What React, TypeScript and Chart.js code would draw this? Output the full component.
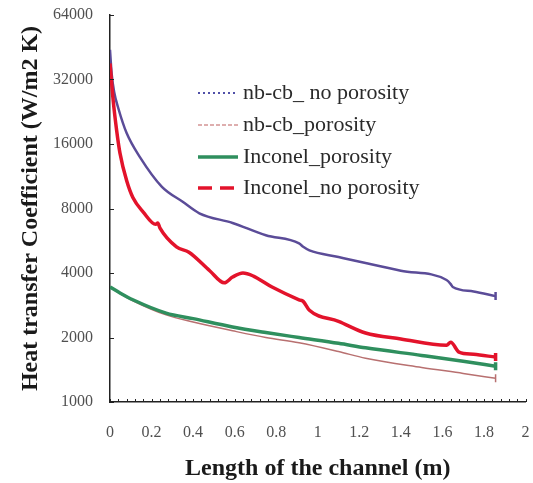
import React, { useEffect, useRef } from 'react';
import { Chart, registerables } from 'chart.js';

Chart.register(...registerables);

// ---- data ----
const X_TICK_STEP = 0.2;
const X_MINOR_STEP = 0.04;
const Y_TICKS = [1000, 2000, 4000, 8000, 16000, 32000, 64000];

const LABELS = ['nb-cb_ no porosity', 'nb-cb_porosity', 'Inconel_porosity', 'Inconel_no porosity'];

const nbNoPorX = [0, 0.008, 0.02, 0.04, 0.08, 0.144, 0.25, 0.35, 0.43, 0.59, 0.75, 0.91, 0.93, 0.96, 1.1, 1.23, 1.4, 1.62, 1.64, 1.65, 1.75, 1.856];
const nbNoPorY = [44000, 34000, 28000, 23500, 18000, 13900, 10100, 8600, 7600, 6850, 6000, 5500, 5300, 5100, 4750, 4450, 4100, 3710, 3550, 3440, 3280, 3120];

const nbPorX = [0, 0.05, 0.11, 0.27, 0.4, 0.59, 0.75, 0.91, 1.1, 1.23, 1.5, 1.7, 1.856];
const nbPorY = [3440, 3200, 2970, 2550, 2360, 2150, 2000, 1890, 1720, 1600, 1450, 1360, 1290];

const incPorX = [0, 0.05, 0.11, 0.27, 0.4, 0.59, 0.75, 0.91, 1.1, 1.23, 1.5, 1.7, 1.856];
const incPorY = [3440, 3220, 3000, 2600, 2450, 2240, 2110, 2000, 1880, 1790, 1650, 1550, 1470];

const incNoPorX = [0, 0.015, 0.032, 0.048, 0.08, 0.11, 0.16, 0.22, 0.23, 0.24, 0.32, 0.38, 0.48, 0.55, 0.59, 0.64, 0.69, 0.78, 0.91, 0.93, 0.96, 1.1, 1.23, 1.4, 1.62, 1.64, 1.68, 1.75, 1.856];
const incNoPorY = [38000, 25700, 18500, 14500, 10800, 9000, 7700, 6750, 6850, 6500, 5300, 5000, 4100, 3600, 3830, 4000, 3870, 3440, 3000, 2950, 2680, 2380, 2100, 1970, 1840, 1900, 1710, 1670, 1620];

const COLORS = ['#5b4c98', '#b87070', '#2f8f5e', '#e3132b'];
const WIDTHS = [2.5, 1.5, 3.5, 3.5];
const LEGEND_DASH = [[2, 3], [4, 2], [], [14, 8]];
const LEGEND_COLORS = ['#5050a8', '#d49494', '#2f8f5e', '#e3132b'];

const toPts = (xs: number[], ys: number[]) => xs.map((x, i) => ({ x, y: ys[i] }));

const serif = "'Liberation Serif', 'Times New Roman', serif";

export default function App() {
  const ref = useRef<HTMLCanvasElement | null>(null);

  useEffect(() => {
    if (!ref.current) return;

    const extras = {
      id: 'extras',
      afterDatasetsDraw(chart: any) {
        const { ctx, scales } = chart;
        const xs = scales.x;
        const ys = scales.y;
        const area = chart.chartArea;
        ctx.save();
        ctx.strokeStyle = '#222';
        ctx.lineWidth = 1;
        for (let i = 0; i <= Math.round(2 / X_MINOR_STEP); i++) {
          const px = Math.round(xs.getPixelForValue(i * X_MINOR_STEP)) + 0.5;
          ctx.beginPath();
          ctx.moveTo(px, area.bottom);
          ctx.lineTo(px, area.bottom - 3);
          ctx.stroke();
        }
        Y_TICKS.forEach((v) => {
          const py = Math.round(ys.getPixelForValue(v)) + 0.5;
          ctx.beginPath();
          ctx.moveTo(area.left, py);
          ctx.lineTo(area.left + 4, py);
          ctx.stroke();
        });
        const lx0 = 198, lx1 = 238, tx = 243;
        const rows = [93, 125, 157, 188];
        ctx.font = `22px ${serif}`;
        ctx.textBaseline = 'middle';
        ctx.textAlign = 'left';
        LABELS.forEach((lab, i) => {
          ctx.save();
          ctx.strokeStyle = LEGEND_COLORS[i];
          ctx.lineWidth = i === 1 ? 1.5 : i === 0 ? 2 : 3.5;
          ctx.setLineDash(LEGEND_DASH[i]);
          ctx.beginPath();
          ctx.moveTo(lx0, rows[i]);
          ctx.lineTo(lx1, rows[i]);
          ctx.stroke();
          ctx.restore();
          ctx.fillStyle = '#2a2a2a';
          ctx.fillText(lab, tx, rows[i]);
        });
        ctx.restore();
      },
    };

    const mk = (i: number, xs: number[], ys: number[], order: number) => ({
      label: LABELS[i],
      data: toPts(xs, ys),
      borderColor: COLORS[i],
      backgroundColor: COLORS[i],
      borderWidth: WIDTHS[i],
      pointRadius: (c: any) => (c.dataIndex === xs.length - 1 ? 4 : 0),
      pointStyle: 'line',
      rotation: 90,
      pointBorderWidth: WIDTHS[i],
      cubicInterpolationMode: 'monotone' as const,
      order,
    });

    const chart = new Chart(ref.current, {
      type: 'line',
      data: {
        datasets: [
          mk(3, incNoPorX, incNoPorY, 0),
          mk(0, nbNoPorX, nbNoPorY, 1),
          mk(2, incPorX, incPorY, 2),
          mk(1, nbPorX, nbPorY, 3),
        ],
      },
      options: {
        animation: false,
        responsive: true,
        maintainAspectRatio: false,
        layout: { padding: { left: 0, right: 6, top: 15, bottom: 0 } },
        plugins: { legend: { display: false }, tooltip: { enabled: false } },
        scales: {
          x: {
            type: 'linear',
            min: 0,
            max: 2,
            afterFit: (s: any) => { s.height = 81; s.paddingLeft = 0; s.paddingRight = 0; },
            border: { display: true, color: '#222', width: 1.5 },
            grid: { display: true, drawOnChartArea: false, drawTicks: false },
            ticks: {
              stepSize: X_TICK_STEP,
              autoSkip: false,
              maxRotation: 0,
              padding: 21,
              color: '#505050',
              font: { family: serif, size: 16 },
              callback: (v: any) => String(Number(Number(v).toFixed(1))),
            },
            title: {
              display: true,
              text: 'Length of the channel (m)',
              color: '#1a1a1a',
              font: { family: serif, size: 24, weight: 'bold' },
              padding: { top: 0, bottom: 0 },
            },
          },
          y: {
            type: 'logarithmic',
            min: 1000,
            max: 64000,
            afterFit: (s: any) => { s.width = 110; s.paddingTop = 0; s.paddingBottom = 0; },
            afterBuildTicks: (s: any) => { s.ticks = Y_TICKS.map((v) => ({ value: v })); },
            border: { display: true, color: '#222', width: 1.5 },
            grid: { display: true, drawOnChartArea: false, drawTicks: false },
            ticks: {
              autoSkip: false,
              padding: 17,
              color: '#505050',
              font: { family: serif, size: 16 },
              callback: (v: any) => String(v),
            },
            title: {
              display: true,
              text: 'Heat transfer Coefficient (W/m2 K)',
              color: '#1a1a1a',
              font: { family: serif, size: 24, weight: 'bold' },
              padding: { top: 16, bottom: 0 },
            },
          },
        },
      },
      plugins: [extras],
    } as any);

    return () => chart.destroy();
  }, []);

  return (
    <div style={{ position: 'fixed', left: 0, top: 0, width: 533, height: 483, background: '#fff' }}>
      <canvas ref={ref} />
    </div>
  );
}
